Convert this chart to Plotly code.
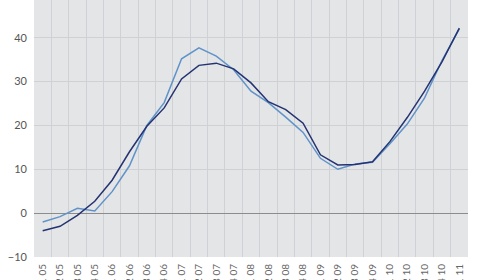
import plotly.graph_objects as go

labels = ["Q1 05", "Q2 05", "Q3 05", "Q4 05",
          "Q1 06", "Q2 06", "Q3 06", "Q4 06",
          "Q1 07", "Q2 07", "Q3 07", "Q4 07",
          "Q1 08", "Q2 08", "Q3 08", "Q4 08",
          "Q1 09", "Q2 09", "Q3 09", "Q4 09",
          "Q1 10", "Q2 10", "Q3 10", "Q4 10",
          "Q1 11"]
series_dark = [-4.0, -3.0, -0.5, 2.7, 7.5, 14.0, 19.8, 24.0, 30.6, 33.7, 34.2, 32.9,
               29.7, 25.4, 23.6, 20.5, 13.3, 11.0, 11.1, 11.7, 16.3, 21.8, 27.8, 34.5, 42.2]
series_light = [-2.0, -0.8, 1.1, 0.5, 4.9, 10.8, 20.0, 25.2, 35.2, 37.7, 35.8, 32.7,
                27.8, 25.2, 21.9, 18.4, 12.5, 10.0, 11.2, 11.6, 15.8, 20.3, 26.3, 34.8, 42.0]
y_ticks = [-10, 0, 10, 20, 30, 40, 50]

x = list(range(len(labels)))

fig = go.Figure()
fig.add_trace(go.Scatter(x=x, y=series_light, mode="lines",
                         line=dict(color="#5f93c9", width=1.5), showlegend=False))
fig.add_trace(go.Scatter(x=x, y=series_dark, mode="lines",
                         line=dict(color="#243372", width=1.5), showlegend=False))

font_family = "Lato, 'Open Sans', sans-serif"
fig.update_layout(
    width=480, height=280,
    margin=dict(l=34, r=12, t=0, b=23),
    paper_bgcolor="white",
    plot_bgcolor="#e4e5e7",
    font=dict(family=font_family, color="#555555", size=11),
    xaxis=dict(
        range=[-0.5, len(labels) - 0.5],
        tickmode="array", tickvals=x, ticktext=labels,
        tickangle=-90, showgrid=False, zeroline=False,
        automargin=False, ticklabelstandoff=4,
        tickfont=dict(size=10, color="#666666"),
        minor=dict(tickmode="array", tickvals=[i + 0.5 for i in range(len(labels) - 1)],
                   showgrid=True, gridcolor="#cfd1d4", gridwidth=1, ticks=""),
        fixedrange=True,
    ),
    yaxis=dict(
        range=[-10, 48.6],
        tickmode="array", tickvals=y_ticks,
        showgrid=True, gridcolor="#cfd1d4", gridwidth=1,
        zeroline=True, zerolinecolor="#8c8c8c", zerolinewidth=1,
        automargin=False, ticklabelstandoff=6,
        tickfont=dict(size=11, color="#555555"),
        fixedrange=True,
    ),
)

fig.write_html("out.html")
